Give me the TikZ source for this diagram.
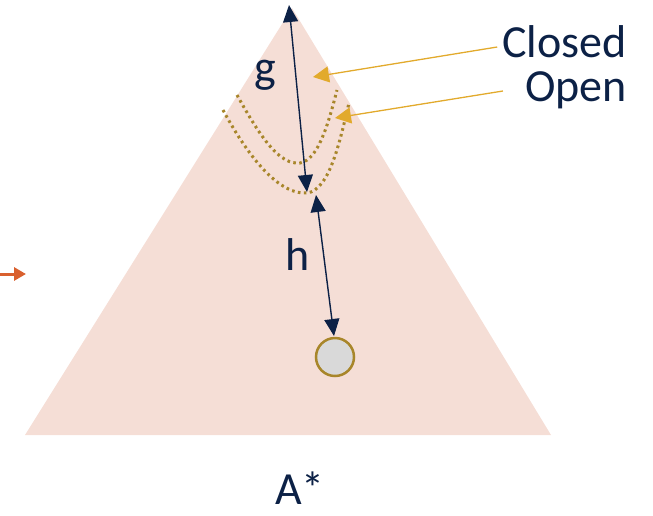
\documentclass[tikz,border=0pt]{standalone}
\usepackage{fontspec}
\setmainfont{Carlito}
\usetikzlibrary{arrows.meta}
\definecolor{navy}{HTML}{0C2146}
\definecolor{pinkbg}{HTML}{F5DED6}
\definecolor{gold}{HTML}{A8862A}
\definecolor{amber}{HTML}{E2AA2C}
\definecolor{rust}{HTML}{D9602E}
\definecolor{grayfill}{HTML}{D9D9D9}
\tikzset{
  lbl/.style={text=navy, font=\fontsize{46}{50}\selectfont, inner sep=0pt},
  dist/.style={navy, line width=1.4pt, {Triangle[length=17pt,width=15pt]}-{Triangle[length=17pt,width=15pt]}},
  pointer/.style={amber, line width=1.3pt, -{Triangle[length=16pt,width=16pt]}},
  front/.style={gold, line width=3pt, dash pattern=on 2.6pt off 3.4pt},
}
\begin{document}
\begin{tikzpicture}[x=1pt,y=-1pt]
\useasboundingbox (0,0) rectangle (653,515);
\fill[pinkbg] (292,8) -- (551,435) -- (25,435) -- cycle;
% nodes / coordinates
\coordinate (gtop) at (289,5);
\coordinate (gbot) at (307,192);
\coordinate (htop) at (316,195);
\coordinate (hbot) at (334,336);
\node[circle, draw=gold, fill=grayfill, line width=2.5pt, minimum size=38pt, inner sep=0pt] (goal) at (335,357) {};
\node[lbl] (g) at (265,75) {g};
\node[lbl] (h) at (298,255) {h};
\node[lbl, anchor=east] (closed) at (627,42) {Closed};
\node[lbl, anchor=east] (open) at (627,90) {Open};
\node[lbl] (astar) at (300,488) {A*};
% fronts
\draw[front] (237,95) .. controls (262,140) and (280,165) .. (300,163) .. controls (318,160) and (328,125) .. (337,90);
\draw[front] (223,110) .. controls (250,160) and (280,195) .. (307,193) .. controls (330,190) and (340,140) .. (349,103);
% distance arrows
\draw[dist] (gbot) -- (gtop);
\draw[dist] (htop) -- (hbot);
% pointers
\coordinate (ctip) at (313,77);
\coordinate (otip) at (335,118);
\draw[pointer] (closed.west) ++(-5,5) coordinate (cs) -- (ctip);
\draw[pointer] (open.west) ++(-22,1) coordinate (os) -- (otip);
% orange arrow
\coordinate (oa) at (0,274);
\coordinate (ob) at (26,274);
\draw[rust, line width=3pt, -{Triangle[length=12pt,width=13pt]}] (oa) -- (ob);
\end{tikzpicture}
\end{document}
